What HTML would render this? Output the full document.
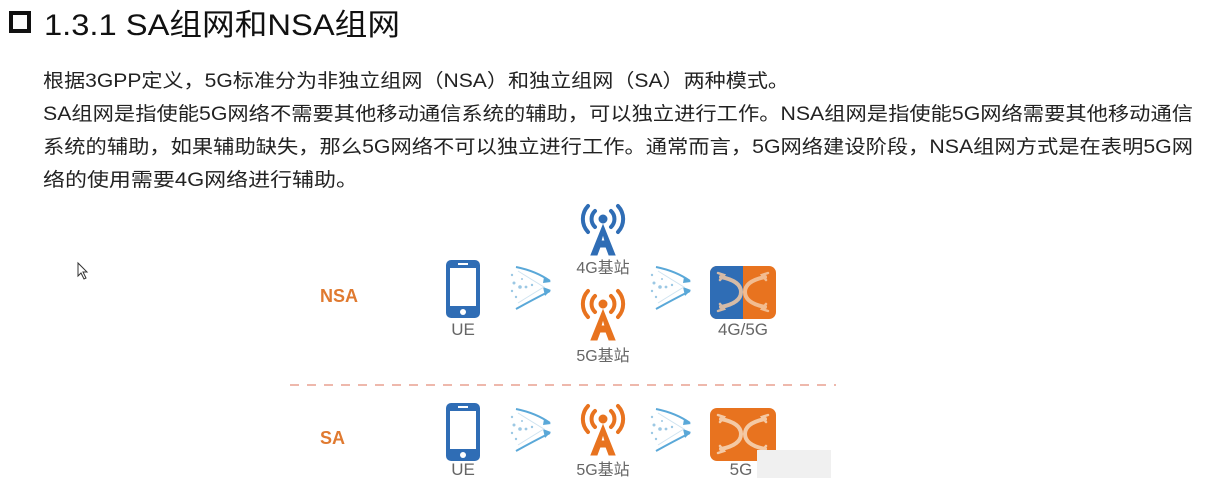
<!DOCTYPE html>
<html><head><meta charset="utf-8"><style>
html,body{margin:0;padding:0;background:#fff;}
svg{display:block;}
text{font-family:"Liberation Sans","Noto Sans CJK SC",sans-serif;}
</style></head><body>
<svg width="1212" height="501" viewBox="0 0 1212 501" xmlns="http://www.w3.org/2000/svg">
<defs>
<g id="phone">
 <rect x="0" y="0" width="34" height="58" rx="5" fill="#2f6db5"/>
 <rect x="4" y="8" width="26" height="38" fill="#fff"/>
 <rect x="12" y="3" width="10" height="2" fill="#fff"/>
 <circle cx="17" cy="52" r="3" fill="#fff"/>
</g>
<g id="arrows" fill="none" stroke="#5aa8d8" stroke-width="2">
 <path d="M8 4 Q28 8 42 18"/><path d="M36 14 L43 19 L35 20" fill="#5aa8d8" stroke="none"/>
 <path d="M8 46 Q26 36 42 28"/><path d="M35 24 L43 27 L37 33" fill="#5aa8d8" stroke="none"/>
 <g fill="#9cc8e4" stroke="none">
  <circle cx="4" cy="12" r="1.2"/><circle cx="6" cy="20" r="1.5"/><circle cx="12" cy="24" r="1.8"/><circle cx="4" cy="28" r="1.2"/><circle cx="18" cy="24" r="1.4"/><circle cx="8" cy="34" r="1.2"/><circle cx="24" cy="22" r="1.2"/><circle cx="14" cy="16" r="1"/>
 </g>
 <path d="M10 8 Q26 18 36 24 Q26 30 10 40" stroke="#cfe3f0" stroke-width="1"/>
</g>
<g id="tower">
 <circle cx="23" cy="14" r="4"/>
 <path d="M15 6 A11 11 0 0 0 15 22 M31 6 A11 11 0 0 1 31 22" fill="none" stroke-width="4" stroke-linecap="round"/>
 <path d="M8 1 A19 19 0 0 0 8 27 M38 1 A19 19 0 0 1 38 27" fill="none" stroke-width="4" stroke-linecap="round"/>
 <path d="M23 20 L11 50 L17 50 L20 42 L26 42 L29 50 L35 50 Z M21 36 L23 29 L25 36 Z"/>
</g>
<g id="xarr" fill="none" stroke-width="4" stroke-linecap="round">
 <path d="M10 12 Q30 16 30 27 Q30 38 10 42"/>
 <path d="M54 12 Q34 16 34 27 Q34 38 54 42"/>
 <path d="M7 8 L13 10 L9 15 M7 46 L13 44 L9 39 M57 8 L51 10 L55 15 M57 46 L51 44 L55 39" stroke-width="2.5"/>
</g>
</defs>

<!-- title -->
<rect x="11" y="13" width="18" height="18" fill="none" stroke="#111" stroke-width="4"/>
<text x="44" y="35" font-size="30" fill="#111" textLength="356" lengthAdjust="spacingAndGlyphs">1.3.1  SA组网和NSA组网</text>

<g font-size="19" fill="#222">
<text x="43" y="87" textLength="746" lengthAdjust="spacingAndGlyphs">根据3GPP定义，5G标准分为非独立组网（NSA）和独立组网（SA）两种模式。</text>
<text x="43" y="120" textLength="1150" lengthAdjust="spacingAndGlyphs">SA组网是指使能5G网络不需要其他移动通信系统的辅助，可以独立进行工作。NSA组网是指使能5G网络需要其他移动通信</text>
<text x="43" y="153" textLength="1150" lengthAdjust="spacingAndGlyphs">系统的辅助，如果辅助缺失，那么5G网络不可以独立进行工作。通常而言，5G网络建设阶段，NSA组网方式是在表明5G网</text>
<text x="43" y="186" textLength="315" lengthAdjust="spacingAndGlyphs">络的使用需要4G网络进行辅助。</text>
</g>

<!-- cursor -->
<path d="M78 263 L78 276 L81 273 L84 279 L86 278 L83 272 L87 272 Z" fill="#fff" stroke="#333" stroke-width="1"/>

<!-- diagram -->
<text x="320" y="302" font-size="18" font-weight="bold" fill="#e07a30">NSA</text>
<text x="320" y="444" font-size="18" font-weight="bold" fill="#e07a30">SA</text>

<use href="#phone" x="446" y="260"/>
<text x="463" y="335" font-size="17" fill="#666" text-anchor="middle">UE</text>
<use href="#arrows" x="508" y="263"/>
<use href="#tower" x="580" y="205" fill="#2f6db5" stroke="#2f6db5"/>
<text x="603" y="273" font-size="16" fill="#666" text-anchor="middle">4G基站</text>
<use href="#tower" x="580" y="290" fill="#e8731f" stroke="#e8731f"/>
<text x="603" y="361" font-size="16" fill="#666" text-anchor="middle">5G基站</text>
<use href="#arrows" x="648" y="263"/>
<rect x="710" y="266" width="66" height="53" rx="7" fill="#e8731f"/>
<path d="M717 266 H743 V319 H717 A7 7 0 0 1 710 312 V273 A7 7 0 0 1 717 266 Z" fill="#2f6db5"/>
<use href="#xarr" x="711" y="265" stroke="#f4c9a4" opacity="0.85"/>
<text x="743" y="335" font-size="17" fill="#666" text-anchor="middle">4G/5G</text>

<line x1="290" y1="385" x2="836" y2="385" stroke="#e8a090" stroke-width="1.5" stroke-dasharray="9 8"/>

<use href="#phone" x="446" y="403"/>
<text x="463" y="475" font-size="17" fill="#666" text-anchor="middle">UE</text>
<use href="#arrows" x="508" y="405"/>
<use href="#tower" x="580" y="405" fill="#e8731f" stroke="#e8731f"/>
<text x="603" y="475" font-size="16" fill="#666" text-anchor="middle">5G基站</text>
<use href="#arrows" x="648" y="405"/>
<rect x="710" y="408" width="66" height="53" rx="7" fill="#e8731f"/>
<use href="#xarr" x="711" y="407" stroke="#f4c9a4"/>
<text x="741" y="475" font-size="17" fill="#666" text-anchor="middle">5G</text>
<rect x="757" y="450" width="74" height="28" fill="#f0f0f0"/>
</svg>
</body></html>
